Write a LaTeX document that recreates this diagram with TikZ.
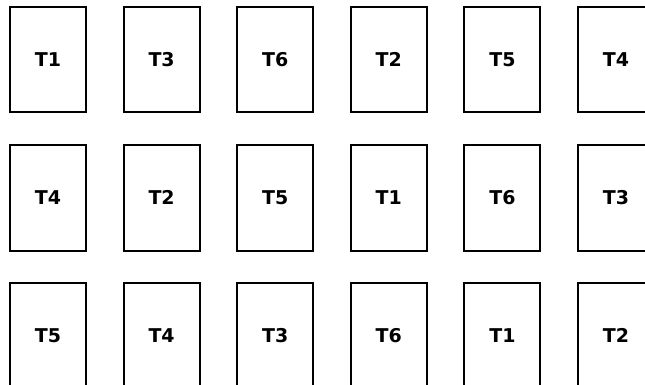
\documentclass[tikz,border=0pt]{standalone}
\usepackage{fontspec}
\setmainfont{DejaVu Sans}
\begin{document}
\begin{tikzpicture}[x=1pt,y=-1pt,
  card/.style={draw=black,line width=2pt,fill=white,minimum width=76pt,minimum height=105pt,inner sep=0pt,text height=13.8pt,text depth=0pt,font=\fontsize{19}{19}\selectfont\bfseries}]
\useasboundingbox (0,0) rectangle (645,385);
\clip (0,0) rectangle (645,385);
\foreach \r/\y/\labels in {1/60/{T1,T3,T6,T2,T5,T4},2/198/{T4,T2,T5,T1,T6,T3},3/335.5/{T5,T4,T3,T6,T1,T2}}{
  \foreach \t [count=\c] in \labels {
    \pgfmathsetmacro{\xx}{48+113.6*(\c-1)}
    \node[card] (n\r\c) at (\xx,\y) {\t};
  }
}
\end{tikzpicture}
\end{document}
